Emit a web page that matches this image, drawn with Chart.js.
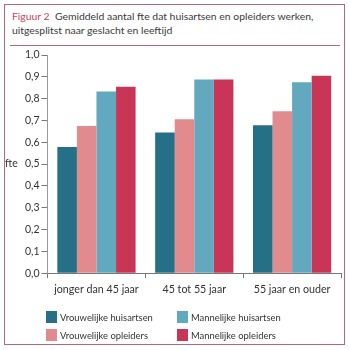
<!DOCTYPE html>
<html lang="nl">
<head>
  <meta charset="UTF-8" />
  <title>Figuur 2</title>
  <script src="https://cdn.jsdelivr.net/npm/chart.js"></script>
  <style>
    html, body { margin: 0; padding: 0; background: #fff; }
    body { width: 350px; height: 350px; position: relative; overflow: hidden; font-family: Lato, sans-serif; color: #333; }
    .frame { position: absolute; left: 4px; top: 4px; width: 339px; height: 339px; border: 1.5px solid #b8657d; }
    .title { position: absolute; left: 12px; top: 10px; width: 334px; font-size: 10.4px; line-height: 13.5px; color: #3a3a3a; }
    .title span { color: #c8405e; }
    .rule { position: absolute; left: 10px; top: 45px; width: 330px; height: 0; border-top: 1.2px solid #b8657d; }
    #wrap { position: absolute; left: 0; top: 0; width: 350px; height: 350px; }
    .legend { position: absolute; left: 46px; top: 311px; font-size: 9.4px; }
    .legend .item { position: absolute; white-space: nowrap; display: flex; align-items: center; }
    .legend .box { width: 11px; height: 12px; margin-right: 3px; }
  </style>
</head>
<body>
  <div class="frame"></div>
  <div class="title"><span>Figuur 2</span>&nbsp; Gemiddeld aantal fte dat huisartsen en opleiders werken,<br>uitgesplitst naar geslacht en leeftijd</div>
  <div class="rule"></div>
  <div id="wrap"><canvas id="chart" width="350" height="350"></canvas></div>
  <div class="legend" id="legend"></div>

<script>
  const categories = ["jonger dan 45 jaar", "45 tot 55 jaar", "55 jaar en ouder"];
  const seriesNames = ["Vrouwelijke huisartsen", "Vrouwelijke opleiders", "Mannelijke huisartsen", "Mannelijke opleiders"];
  const seriesColors = ["#256f87", "#e28b8f", "#62a8be", "#c93556"];
  const vrouwHuisartsen = [0.578, 0.645, 0.678];
  const vrouwOpleiders = [0.675, 0.705, 0.742];
  const manHuisartsen = [0.833, 0.888, 0.875];
  const manOpleiders = [0.855, 0.888, 0.905];
  const yTicks = [0, 0.1, 0.2, 0.3, 0.4, 0.5, 0.6, 0.7, 0.8, 0.9, 1.0];
  const legendOrder = [0, 2, 1, 3];

  const allValues = [vrouwHuisartsen, vrouwOpleiders, manHuisartsen, manOpleiders];

  // horizontal "fte" label next to the y axis
  const fteLabel = {
    id: "fteLabel",
    afterDraw(chart) {
      const y = chart.scales.y;
      const ctx = chart.ctx;
      ctx.save();
      ctx.font = "10.5px Lato, sans-serif";
      ctx.fillStyle = "#333";
      ctx.textAlign = "left";
      ctx.textBaseline = "middle";
      ctx.fillText("fte", 5, y.getPixelForValue(0.5));
      ctx.restore();
    }
  };

  new Chart(document.getElementById("chart"), {
    type: "bar",
    data: {
      labels: categories,
      datasets: allValues.map((vals, i) => ({
        label: seriesNames[i],
        data: vals,
        backgroundColor: seriesColors[i],
        borderWidth: 0,
        categoryPercentage: 0.8,
        barPercentage: 1.0
      }))
    },
    options: {
      responsive: false,
      animation: false,
      layout: { padding: { top: 55, left: 23, right: 9, bottom: 49 } },
      plugins: { legend: { display: false }, tooltip: { enabled: false } },
      scales: {
        x: {
          grid: { display: true, drawOnChartArea: false, offset: true, tickLength: 5, color: "#777" },
          border: { color: "#777", width: 1 },
          ticks: { color: "#333", font: { family: "Lato, sans-serif", size: 10.7 }, padding: 5 }
        },
        y: {
          min: 0,
          max: 1,
          afterBuildTicks: axis => { axis.ticks = yTicks.map(v => ({ value: v })); },
          grid: { display: true, drawOnChartArea: false, tickLength: 6, color: "#777" },
          border: { color: "#999", width: 1 },
          ticks: {
            color: "#333",
            font: { family: "Lato, sans-serif", size: 10.5 },
            padding: 2,
            callback: v => v.toFixed(1).replace(".", ",")
          }
        }
      }
    },
    plugins: [fteLabel]
  });

  const legend = document.getElementById("legend");
  legendOrder.forEach((idx, n) => {
    const item = document.createElement("div");
    item.className = "item";
    item.style.left = (n % 2 === 0 ? 0 : 131) + "px";
    item.style.top = (n < 2 ? 0 : 18) + "px";
    item.innerHTML = `<div class="box" style="background:${seriesColors[idx]}"></div>${seriesNames[idx]}`;
    legend.appendChild(item);
  });
</script>
</body>
</html>
